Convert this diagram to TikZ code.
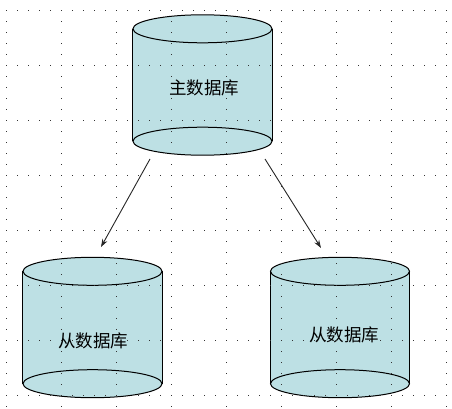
\documentclass[tikz,border=0pt]{standalone}
\usepackage{fontspec}
\newfontfamily\cjk{Noto Sans CJK SC}
\usetikzlibrary{arrows.meta}
\definecolor{dbfill}{RGB}{189,224,228}
\tikzset{
  dbbody/.style={rectangle, inner sep=0pt, minimum width=139pt, minimum height=112pt},
  dbline/.style={draw=black, line width=1pt},
  dblabel/.style={font=\cjk\fontsize{17.5}{19}\selectfont, inner sep=0pt},
  link/.style={draw=black!85, line width=0.9pt, -{Stealth[length=8pt,width=5.5pt]}},
  griddot/.style={fill=black!80}
}
% cylinder drawn round a dbbody node
\newcommand{\dbcyl}[1]{%
  \fill[dbfill] (#1.north west) -- (#1.south west)
    arc[start angle=180, end angle=360, x radius=69.5pt, y radius=14pt]
    -- (#1.north east)
    arc[start angle=0, end angle=180, x radius=69.5pt, y radius=14pt] -- cycle;
  \draw[dbline] (#1.north) ellipse[x radius=69.5pt, y radius=14pt];
  \draw[dbline] (#1.south) ellipse[x radius=69.5pt, y radius=14pt];
  \draw[dbline] (#1.north west) -- (#1.south west) (#1.north east) -- (#1.south east);
}
\begin{document}
\begin{tikzpicture}[x=1pt,y=-1pt]
\useasboundingbox (0,0) rectangle (452,409);
%
\node[dbbody] (master) at (202.5,85) {};
\node[dbbody] (slaveA) at (92.5,327.5) {};
\node[dbbody] (slaveB) at (340,327.5) {};
\dbcyl{master}
\dbcyl{slaveA}
\dbcyl{slaveB}
%
\node[dblabel] (mastertext) at (204,88) {主数据库};
\node[dblabel] (slaveAtext) at (93,340.5) {从数据库};
\node[dblabel] (slaveBtext) at (344,335) {从数据库};
%
\coordinate (masterL) at (150,159);
\coordinate (masterR) at (265,159);
\coordinate (slaveAin) at (101,247);
\coordinate (slaveBin) at (321,248);
\draw[link] (masterL) -- (slaveAin);
\draw[link] (masterR) -- (slaveBin);
%
\foreach \gx in {0,...,8}
  \foreach \j in {0,...,36}
    \fill[griddot] (6+55*\gx,10+11*\j) rectangle +(1,1);
\foreach \gy in {0,...,7}
  \foreach \i in {0,...,40}
    \fill[griddot] (6+11*\i,10+55*\gy) rectangle +(1,1);
%
\end{tikzpicture}
\end{document}
